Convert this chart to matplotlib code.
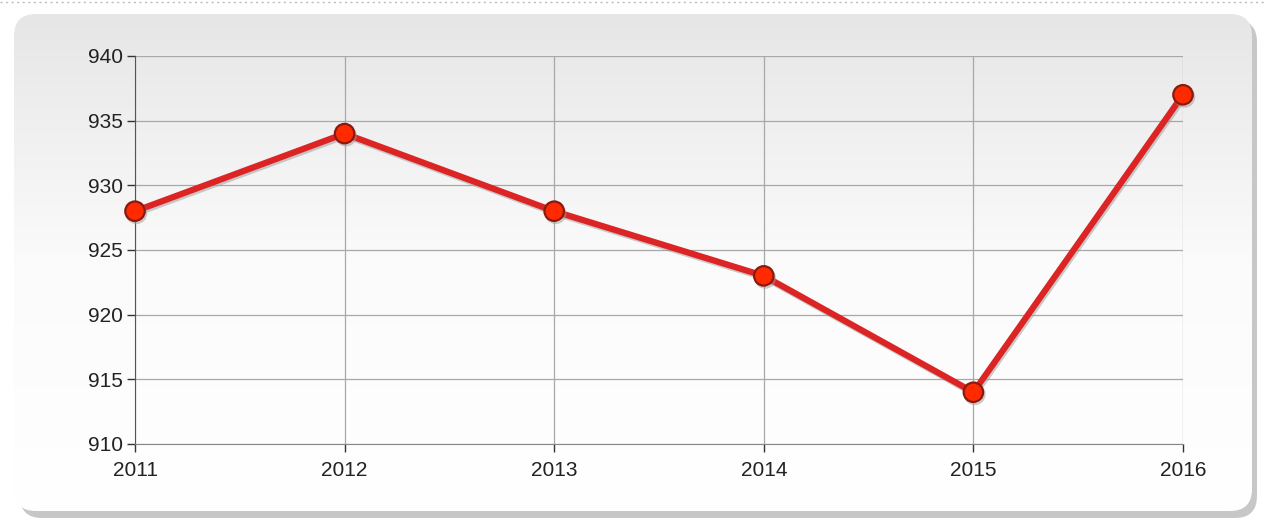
import numpy as np
import matplotlib

matplotlib.use("Agg")
import matplotlib.pyplot as plt
from matplotlib.patches import FancyBboxPatch
import matplotlib.patheffects as pe

plt.rcParams["font.family"] = ["Liberation Sans", "DejaVu Sans"]

years = [2011, 2012, 2013, 2014, 2015, 2016]
values = [928, 934, 928, 923, 914, 937]
y_ticks = [910, 915, 920, 925, 930, 935, 940]

W, H = 1264, 521
fig = plt.figure(figsize=(W / 100, H / 100), dpi=100)
fig.patch.set_facecolor("white")

# background layer in pixel coordinates
bg = fig.add_axes([0, 0, 1, 1])
bg.set_xlim(0, W)
bg.set_ylim(H, 0)
bg.axis("off")

# dotted rule along the top edge
bg.plot([0, W], [2, 2], color="#bbbbbb", lw=1, ls=(0, (1.5, 2.5)))

# panel shadow
shadow = FancyBboxPatch((20, 20), 1237, 498, boxstyle="round,pad=0,rounding_size=22",
                        fc="#9a9a9a", ec="none", alpha=0.55)
bg.add_patch(shadow)
shadow2 = FancyBboxPatch((18, 18), 1237, 497, boxstyle="round,pad=0,rounding_size=22",
                         fc="#c8c8c8", ec="none", alpha=0.7)
bg.add_patch(shadow2)

# panel with vertical gradient
panel = FancyBboxPatch((14, 14), 1238, 497, boxstyle="round,pad=0,rounding_size=22",
                       fc="none", ec="none")
bg.add_patch(panel)
grad = np.linspace(0, 1, 256).reshape(-1, 1)
img = bg.imshow(grad, cmap=matplotlib.colors.LinearSegmentedColormap.from_list(
    "panel", ["#e6e6e6", "#fbfbfb", "#ffffff"]),
    extent=[14, 1252, 511, 14], aspect="auto", zorder=1)
img.set_clip_path(panel)

ax = fig.add_axes([135 / W, 1 - 444 / H, (1183 - 135) / W, (444 - 56) / H])
ax.patch.set_alpha(0)
ax.set_xlim(years[0], years[-1])
ax.set_ylim(y_ticks[0], y_ticks[-1])
ax.set_xticks(years)
ax.set_yticks(y_ticks)
ax.grid(True, color="#a8a8a8", lw=0.9)
for s in ("top", "right"):
    ax.spines[s].set_visible(False)
ax.spines["left"].set_color("#555555")
ax.spines["bottom"].set_color("#888888")
ax.tick_params(axis="both", length=5.5, width=1, color="#333333", labelsize=15,
               labelcolor="#222222")
ax.tick_params(axis="y", pad=3)
ax.tick_params(axis="x", pad=7)

ax.plot(years, values, color="#dc2424", lw=4.5, solid_capstyle="round", zorder=3,
        path_effects=[pe.SimpleLineShadow(offset=(1, -1.5), shadow_color="#999999", alpha=0.5),
                      pe.Normal()],
        marker="o", ms=14, mfc="#ff2a00", mec="#8a1a10", mew=1.6, clip_on=False)

fig.savefig("out.png", dpi=100)
